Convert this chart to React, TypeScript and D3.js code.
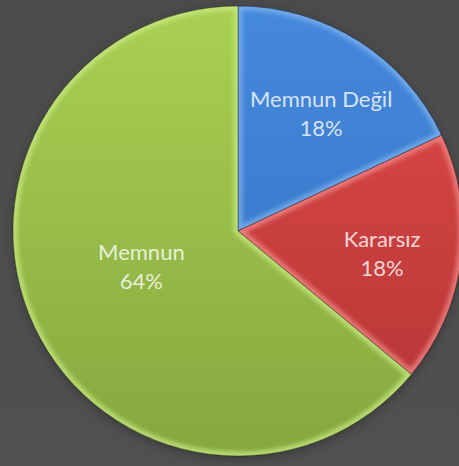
import * as d3 from "d3";

const W = 459;
const H = 466;
const CX = 238;
const CY = 231;
const R = 225;

// data
const categories = ["Memnun Değil", "Kararsız", "Memnun"];
const values = [18, 18, 64];
const percentLabels = ["18%", "18%", "64%"];

// layout / style (not data)
const labelRadius = [0.64, 0.65, 0.45];
const labelNudge = [
  [6, 4],
  [-1, 4],
  [-5, -8],
];
const fills = [
  { top: "#4589dc", bottom: "#3470c0", glow: "#7fb3ef" },
  { top: "#e24a4a", bottom: "#b23434", glow: "#f38a8a" },
  { top: "#a9d052", bottom: "#85a83f", glow: "#c9ea84" },
];

export default function App() {
  const pie = d3
    .pie<number>()
    .sort(null)
    .value((d) => d);
  const arcs = pie(values);

  const arc = d3.arc<d3.PieArcDatum<number>>().innerRadius(0).outerRadius(R);

  return (
    <svg
      width={W}
      height={H}
      style={{ position: "absolute", left: 0, top: 0 }}
    >
      <defs>
        <linearGradient id="bg" x1="0" y1="0" x2="0" y2="1">
          <stop offset="0%" stopColor="#4b4b4b" />
          <stop offset="100%" stopColor="#505050" />
        </linearGradient>
        {fills.map((f, i) => (
          <linearGradient
            key={i}
            id={`fill${i}`}
            gradientUnits="userSpaceOnUse"
            x1={0}
            y1={-R}
            x2={0}
            y2={R}
          >
            <stop offset="0%" stopColor={f.top} />
            <stop offset="100%" stopColor={f.bottom} />
          </linearGradient>
        ))}
        {arcs.map((a, i) => (
          <clipPath key={i} id={`clip${i}`}>
            <path d={arc(a) || ""} />
          </clipPath>
        ))}
        <filter id="blur" x="-10%" y="-10%" width="120%" height="120%">
          <feGaussianBlur stdDeviation="2.2" />
        </filter>
        <filter id="shadow" x="-10%" y="-10%" width="120%" height="125%">
          <feGaussianBlur stdDeviation="4" />
        </filter>
      </defs>
      <rect width={W} height={H} fill="url(#bg)" />
      <g transform={`translate(${CX},${CY})`}>
        <circle r={R} cy={3} fill="#2a2a2a" opacity={0.6} filter="url(#shadow)" />
        {arcs.map((a, i) => (
          <g key={categories[i]}>
            <path d={arc(a) || ""} fill={`url(#fill${i})`} />
            <g clipPath={`url(#clip${i})`}>
              <path
                d={arc(a) || ""}
                fill="none"
                stroke={fills[i].glow}
                strokeWidth={9}
                opacity={0.75}
                filter="url(#blur)"
              />
            </g>
            <path
              d={arc(a) || ""}
              fill="none"
              stroke="#000"
              strokeOpacity={0.35}
              strokeWidth={1}
            />
          </g>
        ))}
        {arcs.map((a, i) => {
          const la = d3
            .arc<d3.PieArcDatum<number>>()
            .innerRadius(R * labelRadius[i])
            .outerRadius(R * labelRadius[i]);
          const [cx, cy] = la.centroid(a);
          const x = cx + labelNudge[i][0];
          const y = cy + labelNudge[i][1];
          return (
            <text
              key={`t${i}`}
              x={x}
              y={y}
              textAnchor="middle"
              fill="#ffffff"
              fillOpacity={0.8}
              fontFamily="Lato, 'Open Sans', sans-serif"
              fontSize={22}
            >
              <tspan x={x} y={y - 6}>
                {categories[i]}
              </tspan>
              <tspan x={x} y={y + 23}>
                {percentLabels[i]}
              </tspan>
            </text>
          );
        })}
      </g>
    </svg>
  );
}
